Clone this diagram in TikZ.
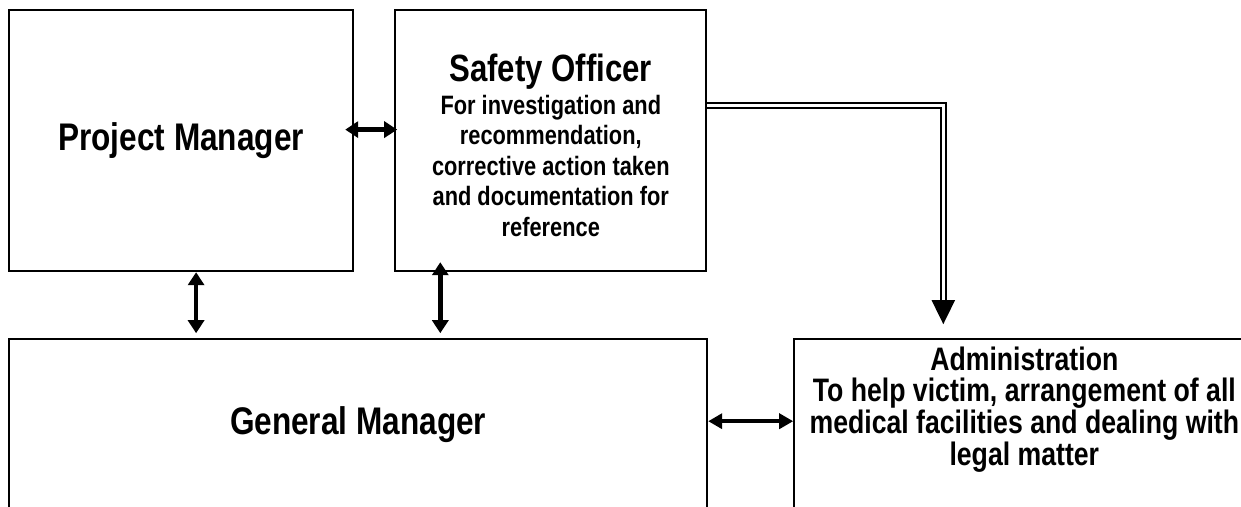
\documentclass[tikz,border=0pt]{standalone}
\usepackage{fontspec}
\setmainfont{Liberation Sans}[FakeStretch=0.82]
\usetikzlibrary{arrows.meta, positioning, calc}
\tikzset{
  box/.style={draw=black, rectangle, align=center, inner sep=0pt, line width=2.2pt, font=\bfseries},
  headbox/.style={box, font=\bfseries\fontsize{38.5}{44}\selectfont},
  notebox/.style={box, font=\bfseries\fontsize{26.6}{30.5}\selectfont},
  adminbox/.style={box, font=\bfseries\fontsize{32.5}{31.7}\selectfont},
  arrow/.style={{Triangle[length=13pt,width=16pt]}-{Triangle[length=13pt,width=16pt]}, line width=4.5pt, draw=black},
  thinarrow/.style={{Triangle[length=14pt,width=15pt]}-{Triangle[length=14pt,width=15pt]}, line width=3.5pt, draw=black},
  reportline/.style={-{Triangle[length=24pt,width=23pt]}, double, double distance=3pt, line width=2pt, draw=black}
}
\newcommand{\headtext}[1]{{\fontsize{38}{44}\selectfont #1}}

\begin{document}
\begin{tikzpicture}

\useasboundingbox (0,0) rectangle (1241pt,-506pt);
\clip (0,0) rectangle (1241pt,-506pt);

\node[headbox, minimum width=344pt, minimum height=261pt, anchor=north west] (pm) at (8pt,-9pt) {Project Manager};
\node[notebox, minimum width=311pt, text height=226pt, text depth=35pt, right=40pt of pm] (so) {\headtext{Safety Officer}\\[2pt]For investigation and\\recommendation,\\corrective action taken\\and documentation for\\reference};
\node[headbox, minimum width=698pt, text height=95pt, text depth=200pt, below=66pt of pm.south west, anchor=north west] (gm) {General Manager};
\node[adminbox, minimum width=460pt, text height=126pt, text depth=250pt, right=85pt of gm.north east, anchor=north west] (admin) {Administration\\To help victim, arrangement of all\\medical facilities and dealing with\\legal matter};

\draw[arrow] ($(pm.east)+(-9pt,11pt)$) -- ($(so.west)+(3pt,11pt)$);
\draw[arrow] ($(pm.south)+(15pt,0)$) -- ($(pm.south |- gm.north)+(15pt,5pt)$);
\draw[arrow] ($(so.south)+(-110.5pt,10pt)$) -- ($(so.south |- gm.north)+(-110.5pt,5pt)$);
\draw[thinarrow] ($(gm.north east)+(0,-83pt)$) -- ($(admin.north west)+(0,-83pt)$);
\draw[reportline] ($(so.east)+(0,35.5pt)$) -| ($(admin.north)+(-81pt,14pt)$);

\end{tikzpicture}
\end{document}
